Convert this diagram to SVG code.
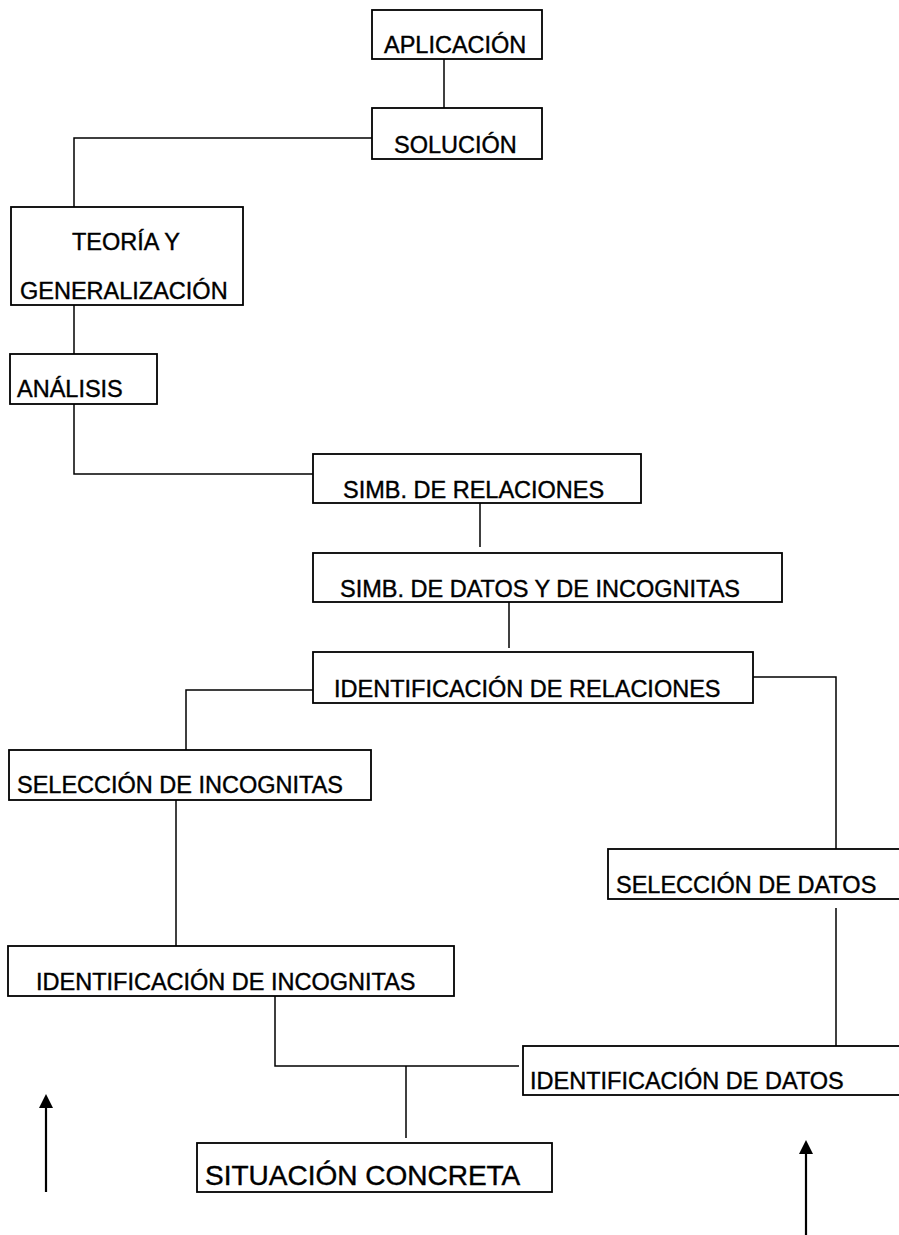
<svg xmlns="http://www.w3.org/2000/svg" width="899" height="1235" viewBox="0 0 899 1235">
<style>
.box{fill:#fff;stroke:#000;stroke-width:1.8}
.lbl{font-family:"Liberation Sans",Arial,sans-serif;font-size:23.5px;fill:#000;stroke:#000;stroke-width:0.4}
.big{font-size:28px}
.ln{fill:none;stroke:#000;stroke-width:1.5}
.arr{fill:none;stroke:#000;stroke-width:2.2}
.head{fill:#000}
</style>
<rect width="899" height="1235" fill="#fff"/>
<g id="connectors">
<path class="ln" d="M444,59 V108"/>
<path class="ln" d="M372,138 H74 V207"/>
<path class="ln" d="M74,305 V354"/>
<path class="ln" d="M74,404 V474 H313"/>
<path class="ln" d="M480,503 V547"/>
<path class="ln" d="M509,602 V648"/>
<path class="ln" d="M313,690 H186 V750"/>
<path class="ln" d="M753,677 H836 V849"/>
<path class="ln" d="M176,800 V946"/>
<path class="ln" d="M836,908 V1053"/>
<path class="ln" d="M275,996 V1066 H519"/>
<path class="ln" d="M406,1066 V1138"/>
<line class="arr" x1="46" y1="1192" x2="46" y2="1108"/>
<path class="head" d="M39,1108 L46,1094 L53,1108 Z"/>
<line class="arr" x1="806" y1="1235" x2="806" y2="1154"/>
<path class="head" d="M799,1154 L806,1140 L813,1154 Z"/>
</g>
<g id="aplicacion"><rect class="box" x="372" y="10" width="170" height="49"/><text class="lbl" x="384" y="53">APLICACIÓN</text></g>
<g id="solucion"><rect class="box" x="372" y="108" width="170" height="51"/><text class="lbl" x="394" y="153">SOLUCIÓN</text></g>
<g id="teoria"><rect class="box" x="11" y="207" width="232" height="98"/><text class="lbl" x="72" y="250">TEORÍA Y</text><text class="lbl" x="20" y="299">GENERALIZACIÓN</text></g>
<g id="analisis"><rect class="box" x="10" y="354" width="147" height="50"/><text class="lbl" x="17" y="397">ANÁLISIS</text></g>
<g id="simb-relaciones"><rect class="box" x="313" y="454" width="328" height="49"/><text class="lbl" x="343" y="498">SIMB. DE RELACIONES</text></g>
<g id="simb-datos"><rect class="box" x="313" y="553" width="469" height="49"/><text class="lbl" x="340" y="597">SIMB. DE DATOS Y DE INCOGNITAS</text></g>
<g id="ident-relaciones"><rect class="box" x="313" y="652" width="440" height="51"/><text class="lbl" x="334" y="697">IDENTIFICACIÓN DE RELACIONES</text></g>
<g id="sel-incognitas"><rect class="box" x="9" y="750" width="362" height="50"/><text class="lbl" x="17" y="793">SELECCIÓN DE INCOGNITAS</text></g>
<g id="sel-datos"><rect class="box" x="608" y="849" width="300" height="50"/><text class="lbl" x="616" y="893">SELECCIÓN DE DATOS</text></g>
<g id="ident-incognitas"><rect class="box" x="8" y="946" width="446" height="50"/><text class="lbl" x="36" y="990">IDENTIFICACIÓN DE INCOGNITAS</text></g>
<g id="ident-datos"><rect class="box" x="523" y="1046" width="385" height="49"/><text class="lbl" x="530" y="1089">IDENTIFICACIÓN DE DATOS</text></g>
<g id="situacion"><rect class="box" x="197" y="1143" width="355" height="49"/><text class="lbl big" x="205" y="1185">SITUACIÓN CONCRETA</text></g>
</svg>
